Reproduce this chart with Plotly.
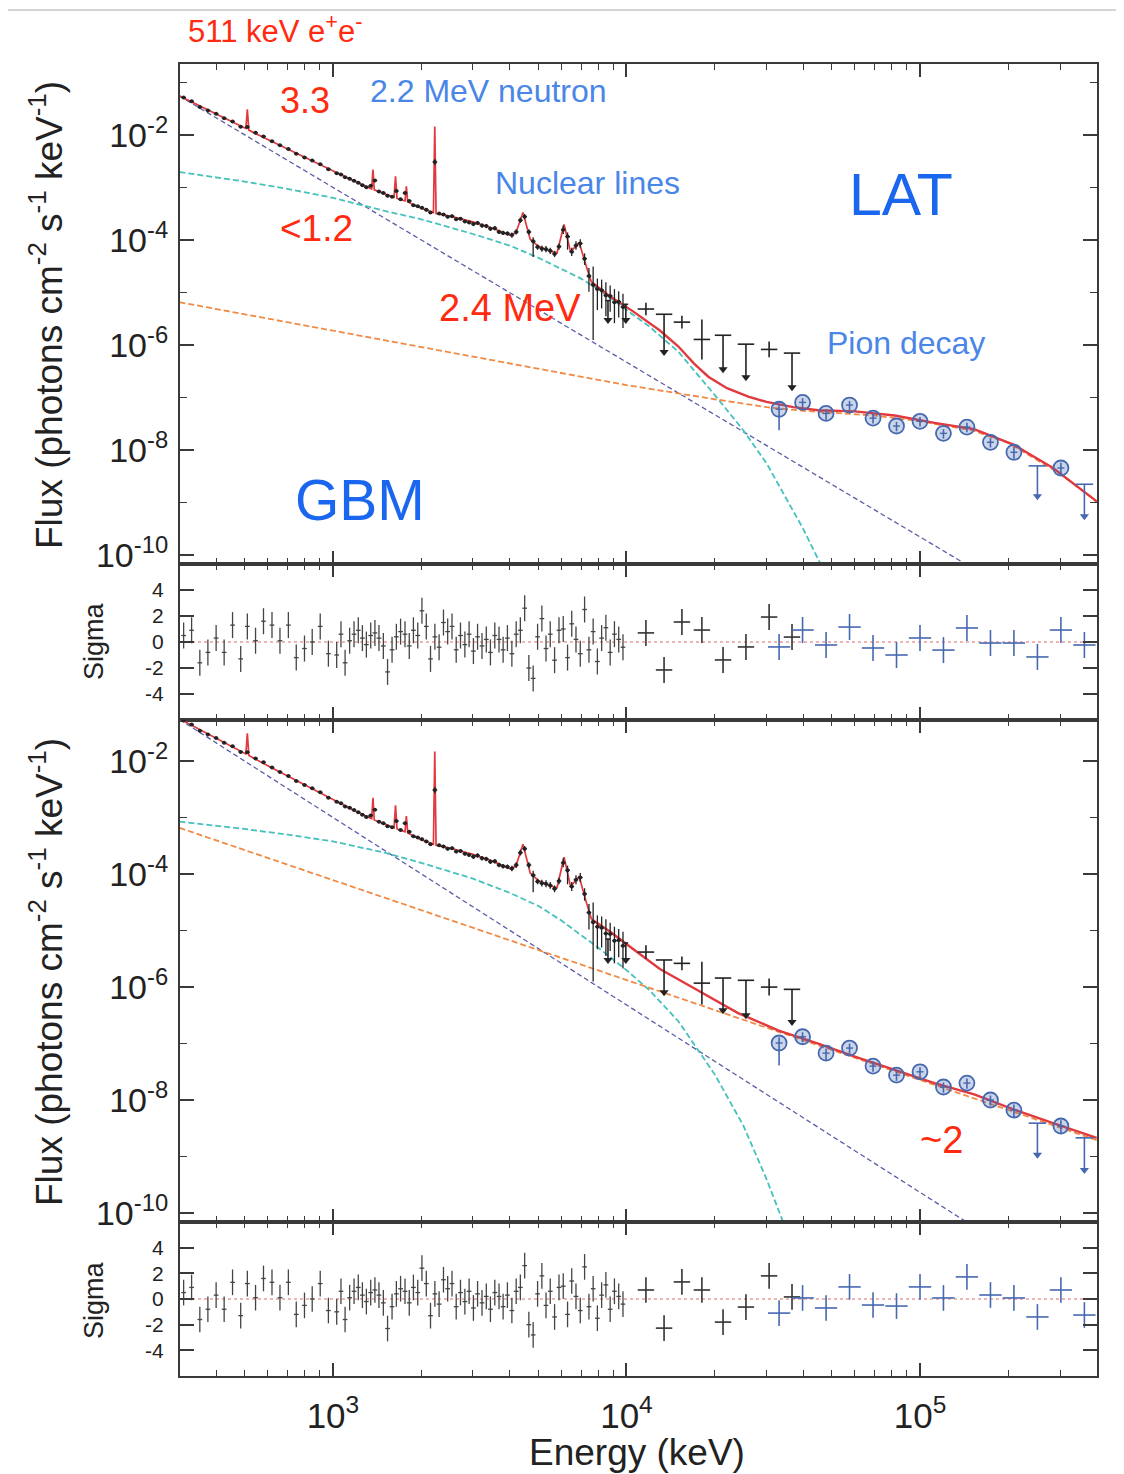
import numpy as np
import plotly.graph_objects as go

# ---------------- model curves: energy (keV), log10 flux (ph cm^-2 s^-1 keV^-1) ----------------
blue_top_E = [300, 150000]
blue_top_logF = [-1.25, -10.24]
blue_bot_E = [300, 170000]
blue_bot_logF = [-1.26, -10.40]

cyan_top_E = [300, 400, 500, 700, 1000, 1500, 2000, 3000, 4000, 5000, 6000, 7000, 8000,
              10000, 12000, 15000, 20000, 25000, 30000, 40000, 50000]
cyan_top_logF = [-2.70, -2.80, -2.88, -3.02, -3.19, -3.44, -3.60, -3.88, -4.10, -4.33, -4.55, -4.73, -4.93,
                 -5.33, -5.65, -6.12, -6.95, -7.62, -8.25, -9.50, -10.6]
cyan_bot_E = [300, 500, 700, 1000, 1500, 2000, 3000, 4000, 5000, 6000, 7000, 8000,
              10000, 12000, 15000, 20000, 25000, 30000, 35000, 38000]
cyan_bot_logF = [-3.07, -3.20, -3.30, -3.42, -3.62, -3.80, -4.08, -4.33, -4.56, -4.82, -5.08, -5.30,
                 -5.70, -6.06, -6.60, -7.55, -8.45, -9.40, -10.3, -10.8]

orange_top_E = [300, 1000, 3000, 10000, 20000, 30000, 40000, 50000, 70000, 100000, 150000, 200000, 300000, 400000]
orange_top_logF = [-5.18, -5.72, -6.21, -6.76, -7.03, -7.18, -7.25, -7.29, -7.34, -7.45, -7.62, -7.86, -8.45, -8.98]
orange_bot_E = [300, 400000]
orange_bot_logF = [-3.18, -8.71]

# total model, common low-energy part (with 511 keV, 1.37, 1.63, 1.78, 2.223, 4.44, 6.13, 6.9 MeV lines)
red_low_E = [300, 400, 480, 505, 511, 517, 600, 800, 1000, 1200, 1355, 1369, 1383, 1500, 1615, 1634, 1653,
             1760, 1779, 1798, 2000, 2200, 2223, 2246, 2500, 3000, 3500, 4000, 4200, 4440, 4700, 5000,
             5500, 5800, 6130, 6450, 6900, 7300, 7600]
red_low_logF = [-1.25, -1.59, -1.81, -1.87, -1.505, -1.90, -2.08, -2.42, -2.68, -2.89, -3.02, -2.65, -3.04,
                -3.12, -3.18, -2.78, -3.20, -3.25, -2.97, -3.27, -3.39, -3.47, -1.83, -3.49, -3.54, -3.65,
                -3.77, -3.90, -3.86, -3.47, -3.98, -4.11, -4.21, -4.24, -3.70, -4.22, -4.04, -4.50, -4.80]
red_top_hi_E = [8800, 10500, 13000, 15000, 17000, 19000, 22000, 26000, 30000, 37000, 45000, 60000, 82000,
                112000, 153000, 209000, 284000, 388000, 400000]
red_top_hi_logF = [-5.07, -5.35, -5.72, -6.02, -6.35, -6.60, -6.82, -6.98, -7.08, -7.18, -7.24, -7.26, -7.34,
                   -7.48, -7.60, -7.90, -8.34, -8.92, -8.98]
red_bot_hi_E = [8800, 10500, 13000, 17000, 24000, 33000, 45000, 60000, 82000, 112000, 153000, 209000,
                284000, 388000, 400000]
red_bot_hi_logF = [-5.02, -5.32, -5.68, -6.02, -6.46, -6.77, -7.00, -7.23, -7.47, -7.70, -7.90, -8.17,
                   -8.41, -8.65, -8.67]

# ---------------- GBM data (same in both fits below 10 MeV) ----------------
gbm_E = [310, 330, 352, 375, 400, 426, 455, 485, 511, 545, 580, 620, 660, 705, 750, 800, 850, 905, 965,
         1030, 1065, 1100, 1140, 1180, 1220, 1260, 1300, 1345, 1390, 1435, 1485, 1535, 1590, 1645, 1700,
         1760, 1820, 1880, 1945, 2010, 2080, 2150, 2225, 2300, 2380, 2460, 2545, 2630, 2720, 2815, 2910,
         3010, 3110, 3220, 3330, 3440, 3560, 3680, 3800, 3930, 4070, 4210, 4350, 4500, 4650, 4810, 4980,
         5150, 5320, 5500, 5690, 5890, 6090, 6300, 6510, 6730, 6960, 7200, 7450, 7700, 7960, 8230, 8510,
         8800, 9100, 9410, 9730]
gbm_logF = [-1.28, -1.35, -1.46, -1.525, -1.59, -1.675, -1.735, -1.835, -1.84, -1.95, -2.02, -2.11, -2.19,
            -2.26, -2.35, -2.42, -2.48, -2.55, -2.645,
            -2.72, -2.745, -2.80, -2.825, -2.865, -2.905, -2.95, -2.99, -2.96, -2.86, -3.07, -3.10, -3.15,
            -3.17, -3.06, -3.22, -3.10, -3.25, -3.33, -3.35,
            -3.38, -3.42, -3.47, -2.51, -3.49, -3.51, -3.55, -3.54, -3.60, -3.59, -3.64, -3.66,
            -3.69, -3.67, -3.72, -3.73, -3.78, -3.77, -3.84, -3.86, -3.87,
            -3.90, -3.84, -3.62, -3.55, -3.84, -4.02, -4.13,
            -4.16, -4.17, -4.20, -4.26, -4.12,
            -3.80, -3.93, -4.22, -4.10, -4.06,
            -4.35, -4.68, -4.85, -4.93, -4.95, -5.05, -5.06, -5.18, -5.17, -5.27]
gbm_err_up = [0.012] * 19 + [0.02] * 20 + [0.03, 0.03, 0.03, 0.06, 0.03, 0.03, 0.03, 0.03, 0.03, 0.03, 0.03, 0.03] \
    + [0.04] * 9 + [0.05, 0.05, 0.05, 0.05, 0.05, 0.08, 0.05] + [0.06] * 5 + [0.08] * 5 \
    + [0.10, 0.15, 0.35, 0.20, 0.20, 0.25, 0.20, 0.25, 0.20, 0.25]
gbm_err_dn = [0.012] * 19 + [0.02] * 20 + [0.03, 0.03, 0.03, 0.06, 0.03, 0.03, 0.03, 0.03, 0.03, 0.03, 0.03, 0.03] \
    + [0.04] * 9 + [0.05, 0.05, 0.05, 0.05, 0.05, 0.30, 0.05] + [0.06] * 5 + [0.08, 0.25, 0.08, 0.08, 0.08] \
    + [0.12, 0.30, 1.05, 0.40, 0.35, 0.40, 0.30, 0.40, 0.30, 0.40]
gbm_sigma = [0.5, 0.9, -1.6, -0.8, 0.3, -0.8, 1.3, -1.3, 1.2, 0.1, 1.6, 1.3, 0.1, 1.3, -1.2, -0.5, 0.0, 1.2, -0.9,
             -1.0, 0.6, -1.6, 0.1, 0.6, 0.9, 0.3, -0.2, 0.5, 0.7, 0.3, -0.3, -2.3, -0.6, 0.4, 0.8, 0.6, -0.3,
             0.9, 0.5,
             2.4, 1.2, -1.3, 0.4, -0.4, 1.5, 0.8, 1.2, -0.6, 0.5, -0.2, 0.6,
             -0.7, 0.4, -0.3, 0.2, -0.8, 0.5, 0.2, -0.6, 0.3,
             -0.9, 0.6, 0.9, 2.6, -2.0, -2.8, 0.4,
             1.8, -0.5, 0.6, -1.4, 0.9,
             1.0, -1.2, 1.4, 0.2, -0.9,
             2.5, -0.6, 0.8, -1.5, 0.3, 1.1, -0.8, 0.6, 0.2, -0.4]

# upper limits inside the BGO band
gbm_ul_E = [8650, 9950]
gbm_ul_logF = [-5.15, -5.22]
gbm_ul_tip = [-5.52, -5.52]

# GBM points above 10 MeV (1 = upper limit)
gbm_hi_E = [11650, 13430, 15450, 18070, 21330, 25530, 30620, 36640]
gbm_hi_ul = [0, 1, 0, 0, 1, 1, 0, 1]
gbm_hi_err = [0.12, 0.0, 0.12, 0.38, 0.0, 0.0, 0.15, 0.0]
gbm_hi_logF_top = [-5.31, -5.41, -5.56, -5.89, -5.81, -5.98, -6.08, -6.15]
gbm_hi_tip_top = [None, -6.13, None, None, -6.46, -6.61, None, -6.80]
gbm_hi_sigma_top = [0.7, -2.15, 1.54, 0.92, -1.38, -0.38, 1.92, 0.38]
gbm_hi_logF_bot = [-5.38, -5.52, -5.58, -5.93, -5.84, -5.88, -6.00, -6.04]
gbm_hi_tip_bot = [None, -6.09, None, None, -6.41, -6.50, None, -6.62]
gbm_hi_sigma_bot = [0.7, -2.27, 1.33, 0.7, -1.8, -0.63, 1.8, 0.16]

# ---------------- LAT data ----------------
lat_E = [33110, 39810, 47860, 57540, 69180, 83180, 100000, 120200, 144500, 173800, 208900, 251200, 302000, 363100]
lat_ul = [0, 0, 0, 0, 0, 0, 0, 0, 0, 0, 0, 1, 0, 1]
lat_err_up = [0.10, 0.08, 0.08, 0.08, 0.08, 0.08, 0.08, 0.08, 0.08, 0.08, 0.10, 0.0, 0.10, 0.0]
lat_err_dn = [0.40, 0.10, 0.12, 0.10, 0.10, 0.10, 0.10, 0.10, 0.10, 0.10, 0.12, 0.0, 0.12, 0.0]
lat_logF_top = [-7.22, -7.09, -7.30, -7.14, -7.39, -7.54, -7.45, -7.68, -7.56, -7.85, -8.04, -8.30, -8.34, -8.65]
lat_tip_top = [None] * 11 + [-8.88, None, -9.26]
lat_sigma_top = [-0.38, 0.92, -0.23, 1.15, -0.46, -1.0, 0.31, -0.62, 1.08, -0.08, -0.08, -1.15, 0.92, -0.23]
lat_logF_bot = [-6.99, -6.88, -7.17, -7.08, -7.40, -7.56, -7.50, -7.77, -7.70, -8.00, -8.18, -8.41, -8.46, -8.67]
lat_tip_bot = [None] * 11 + [-8.97, None, -9.24]
lat_sigma_bot = [-1.1, 0.08, -0.7, 0.94, -0.47, -0.55, 0.94, 0.08, 1.72, 0.31, 0.08, -1.4, 0.7, -1.25]

# bin half widths (dex) and residual error
gbm_half_dex = 0.008
hi_half_dex = 0.028
lat_half_dex = 0.038
sigma_err = 1.0

x_range_log = [2.479, 5.603]
flux_top_range = [-10.17, -0.64]
flux_bot_range = [-10.16, -1.27]
sigma_range = [-6, 6]

# ---------------- styling ----------------
C_RED = "#e2393e"
C_BLUE = "#5a5fa6"
C_CYAN = "#45c2bd"
C_ORANGE = "#f08a45"
C_DATA = "#222222"
C_LAT = "#4668b0"
C_AX = "#3a3a3a"
FONT = "Liberation Sans, Arial, Helvetica, sans-serif"

fig = go.Figure()


def lin(vals):
    return [None if v is None else 10 ** v for v in vals]


def yerr(logF, up, dn, color, thick=1.2):
    F = 10 ** np.array(logF, dtype=float)
    return dict(type="data", symmetric=False,
                array=F * (10 ** np.array(up, dtype=float) - 1),
                arrayminus=F * (1 - 10 ** (-np.array(dn, dtype=float))),
                color=color, thickness=thick, width=0)


def xerr(E, half, color, thick=1.2):
    E = np.array(E, dtype=float)
    return dict(type="data", symmetric=False, array=E * (10 ** half - 1),
                arrayminus=E * (1 - 10 ** (-half)), color=color, thickness=thick, width=0)


HIDDEN = dict(size=2, opacity=0)


def add_line(E, logF, color, width, dash, xa, ya):
    fig.add_trace(go.Scatter(x=E, y=lin(logF), mode="lines",
                             line=dict(color=color, width=width, dash=dash),
                             xaxis=xa, yaxis=ya, showlegend=False, hoverinfo="skip"))


def add_ul(E, bar, tip, color, xa, ya, half):
    xs, ys = [], []
    for e, b, t in zip(E, bar, tip):
        xs += [e, e, None]
        ys += [10 ** b, 10 ** t, None]
    fig.add_trace(go.Scatter(x=xs, y=ys, mode="lines", line=dict(color=color, width=1.6),
                             xaxis=xa, yaxis=ya, showlegend=False, hoverinfo="skip"))
    fig.add_trace(go.Scatter(x=E, y=lin(tip), mode="markers",
                             marker=dict(symbol="triangle-down", size=8, color=color),
                             xaxis=xa, yaxis=ya, showlegend=False, hoverinfo="skip"))
    fig.add_trace(go.Scatter(x=E, y=lin(bar), mode="markers", marker=dict(HIDDEN, color=color),
                             error_x=xerr(E, half, color, 1.6),
                             xaxis=xa, yaxis=ya, showlegend=False, hoverinfo="skip"))


def flux_panel(xa, ya, blue, cyan, orange, red_hi, hi_logF, hi_tip, lat_logF, lat_tip):
    add_line(blue[0], blue[1], C_BLUE, 1.3, "5px,3px", xa, ya)
    add_line(cyan[0], cyan[1], C_CYAN, 1.8, "6px,3px", xa, ya)
    add_line(orange[0], orange[1], C_ORANGE, 1.8, "6px,3px", xa, ya)
    add_line(red_low_E, red_low_logF, C_RED, 1.7, "solid", xa, ya)
    add_line([red_low_E[-1]] + red_hi[0], [red_low_logF[-1]] + red_hi[1], C_RED, 2.4, "solid", xa, ya)
    # GBM low-energy data
    fig.add_trace(go.Scatter(x=gbm_E, y=lin(gbm_logF), mode="markers",
                             marker=dict(size=4, color=C_DATA),
                             error_y=yerr(gbm_logF, gbm_err_up, gbm_err_dn, C_DATA, 1.3),
                             error_x=xerr(gbm_E, gbm_half_dex, C_DATA, 1.3),
                             xaxis=xa, yaxis=ya, showlegend=False, hoverinfo="skip"))
    add_ul(gbm_ul_E, gbm_ul_logF, gbm_ul_tip, C_DATA, xa, ya, gbm_half_dex)
    # GBM > 10 MeV
    det = [i for i, u in enumerate(gbm_hi_ul) if u == 0]
    uls = [i for i, u in enumerate(gbm_hi_ul) if u == 1]
    dE = [gbm_hi_E[i] for i in det]
    dF = [hi_logF[i] for i in det]
    dErr = [gbm_hi_err[i] for i in det]
    fig.add_trace(go.Scatter(x=dE, y=lin(dF), mode="markers", marker=dict(HIDDEN, color=C_DATA),
                             error_y=yerr(dF, dErr, dErr, C_DATA, 1.6),
                             error_x=xerr(dE, hi_half_dex, C_DATA, 1.6),
                             xaxis=xa, yaxis=ya, showlegend=False, hoverinfo="skip"))
    add_ul([gbm_hi_E[i] for i in uls], [hi_logF[i] for i in uls], [hi_tip[i] for i in uls],
           C_DATA, xa, ya, hi_half_dex)
    # LAT
    det = [i for i, u in enumerate(lat_ul) if u == 0]
    uls = [i for i, u in enumerate(lat_ul) if u == 1]
    lE = [lat_E[i] for i in det]
    lF = [lat_logF[i] for i in det]
    fig.add_trace(go.Scatter(x=lE, y=lin(lF), mode="markers",
                             marker=dict(symbol="circle", size=15, color="rgba(70,104,176,0.28)",
                                         line=dict(color=C_LAT, width=1.8)),
                             error_y=yerr(lF, [lat_err_up[i] for i in det], [lat_err_dn[i] for i in det],
                                          C_LAT, 1.6),
                             error_x=xerr(lE, 0.012, C_LAT, 1.4),
                             xaxis=xa, yaxis=ya, showlegend=False, hoverinfo="skip"))
    add_ul([lat_E[i] for i in uls], [lat_logF[i] for i in uls], [lat_tip[i] for i in uls],
           C_LAT, xa, ya, 0.03)


def sigma_panel(xa, ya, hi_sigma, lat_sigma):
    fig.add_shape(type="line", xref=f"{xa} domain", x0=0, x1=1, yref=ya, y0=0, y1=0,
                  line=dict(color="#e06a6a", width=1.2, dash="dot"), layer="below")
    fig.add_trace(go.Scatter(x=gbm_E, y=gbm_sigma, mode="markers", marker=dict(HIDDEN, color="#444"),
                             error_y=dict(type="constant", value=sigma_err, color="#444", thickness=1.3, width=0),
                             error_x=xerr(gbm_E, gbm_half_dex, "#444", 1.3),
                             xaxis=xa, yaxis=ya, showlegend=False, hoverinfo="skip"))
    fig.add_trace(go.Scatter(x=gbm_hi_E, y=hi_sigma, mode="markers", marker=dict(HIDDEN, color="#333"),
                             error_y=dict(type="constant", value=sigma_err, color="#333", thickness=1.6, width=0),
                             error_x=xerr(gbm_hi_E, hi_half_dex, "#333", 1.6),
                             xaxis=xa, yaxis=ya, showlegend=False, hoverinfo="skip"))
    fig.add_trace(go.Scatter(x=lat_E, y=lat_sigma, mode="markers", marker=dict(HIDDEN, color=C_LAT),
                             error_y=dict(type="constant", value=sigma_err, color=C_LAT, thickness=1.6, width=0),
                             error_x=xerr(lat_E, lat_half_dex, C_LAT, 1.6),
                             xaxis=xa, yaxis=ya, showlegend=False, hoverinfo="skip"))


flux_panel("x", "y", (blue_top_E, blue_top_logF), (cyan_top_E, cyan_top_logF),
           (orange_top_E, orange_top_logF), (red_top_hi_E, red_top_hi_logF),
           gbm_hi_logF_top, gbm_hi_tip_top, lat_logF_top, lat_tip_top)
sigma_panel("x2", "y2", gbm_hi_sigma_top, lat_sigma_top)
flux_panel("x3", "y3", (blue_bot_E, blue_bot_logF), (cyan_bot_E, cyan_bot_logF),
           (orange_bot_E, orange_bot_logF), (red_bot_hi_E, red_bot_hi_logF),
           gbm_hi_logF_bot, gbm_hi_tip_bot, lat_logF_bot, lat_tip_bot)
sigma_panel("x4", "y4", gbm_hi_sigma_bot, lat_sigma_bot)

# ---------------- axes ----------------
x_major = [1e3, 1e4, 1e5]
x_minor = [m * 10 ** d for d in range(2, 6) for m in range(2, 10)]
flux_major = [10.0 ** p for p in (-10, -8, -6, -4, -2)]
flux_text = [f"10<sup>{p}</sup>" for p in (-10, -8, -6, -4, -2)]
flux_minor = [10.0 ** p for p in (-9, -7, -5, -3, -1)]
sig_vals = [-4, -2, 0, 2, 4]

common = dict(showline=True, linewidth=2, linecolor=C_AX, mirror="ticks", ticks="inside",
              tickcolor=C_AX, showgrid=False, zeroline=False)

doms = {"y": [0.6189, 1.0], "y2": [0.5, 0.6189], "y3": [0.1174, 0.5], "y4": [0.0, 0.1174]}
layout = {}
for key in ["", "2", "3", "4"]:
    layout["xaxis" + key] = dict(common, type="log", range=x_range_log, domain=[0, 1], anchor="y" + key,
                                 tickvals=x_major,
                                 ticktext=["10<sup>3</sup>", "10<sup>4</sup>", "10<sup>5</sup>"],
                                 ticklen=13, tickwidth=1.6,
                                 minor=dict(tickvals=x_minor, ticks="inside", ticklen=6, tickcolor=C_AX,
                                            tickwidth=1.3),
                                 showticklabels=(key == "4"),
                                 tickfont=dict(family=FONT, size=35, color="#222"), ticklabelstandoff=8)
for key, rng in (("", flux_top_range), ("3", flux_bot_range)):
    layout["yaxis" + key] = dict(common, type="log", range=rng, domain=doms["y" + key],
                                 anchor="x" + key, tickvals=flux_major, ticktext=flux_text,
                                 ticklen=14, tickwidth=1.6,
                                 minor=dict(tickvals=flux_minor, ticks="inside", ticklen=7,
                                            tickcolor=C_AX, tickwidth=1.3),
                                 tickfont=dict(family=FONT, size=34, color="#222"),
                                 ticklabelstandoff=3)
for key in ("2", "4"):
    layout["yaxis" + key] = dict(common, range=sigma_range, domain=doms["y" + key], anchor="x" + key,
                                 tickvals=sig_vals, ticktext=[str(v) for v in sig_vals],
                                 ticklen=14, tickwidth=1.6,
                                 tickfont=dict(family=FONT, size=21, color="#222"),
                                 ticklabelstandoff=10)
fig.update_layout(**layout)


# ---------------- labels ----------------
# page-pixel -> paper conversion; plot area spans x 180..1097, y 64..1376 on the page
def px_x(px):
    return (px - 180) / 917.0


def px_y(py):
    return (1376 - py) / 1312.0


ann = []


def text(s, cx, cy, size, color, angle=0):
    ann.append(dict(text=s, x=px_x(cx), y=px_y(cy), xref="paper", yref="paper", showarrow=False,
                    xanchor="center", yanchor="middle", textangle=angle,
                    font=dict(family=FONT, size=size, color=color)))


RED_T = "#ff2a10"
BLUE_T = "#4a86e8"
BLUE_B = "#1a66ee"
text("511 keV e<sup>+</sup>e<sup>-</sup>", 275, 29, 31, RED_T)
text("3.3", 305, 100, 36, RED_T)
text("2.2 MeV neutron", 488, 91, 32, BLUE_T)
text("Nuclear lines", 587, 183, 32, BLUE_T)
text("LAT", 901, 195, 59, BLUE_B)
text("&lt;1.2", 316, 228, 37, RED_T)
text("2.4 MeV", 510, 308, 38, RED_T)
text("Pion decay", 906, 343, 32, BLUE_T)
text("GBM", 360, 500, 57, BLUE_B)
text("~2", 941, 1140, 38, RED_T)

flux_title = "Flux (photons cm<sup>-2</sup> s<sup>-1</sup> keV<sup>-1</sup>)"
text(flux_title, 46, 315, 37, "#222", -90)
text(flux_title, 46, 972, 37, "#222", -90)
text("Sigma", 94, 641, 27, "#222", -90)
text("Sigma", 94, 1300, 27, "#222", -90)
text("Energy (keV)", 637, 1452, 37, "#222")

# the page body adds an 8 px offset; margins compensate so the plot area lands on 180..1097 / 64..1376
fig.update_layout(
    annotations=ann,
    width=1124, height=1474,
    margin=dict(l=172, r=35, t=56, b=106),
    paper_bgcolor="white", plot_bgcolor="white",
    showlegend=False,
    font=dict(family=FONT, color="#222"),
)
fig.add_shape(type="line", xref="paper", yref="paper", x0=px_x(0), x1=px_x(1124),
              y0=px_y(10), y1=px_y(10), line=dict(color="#d4d4d4", width=2))

fig.write_html("out.html")
